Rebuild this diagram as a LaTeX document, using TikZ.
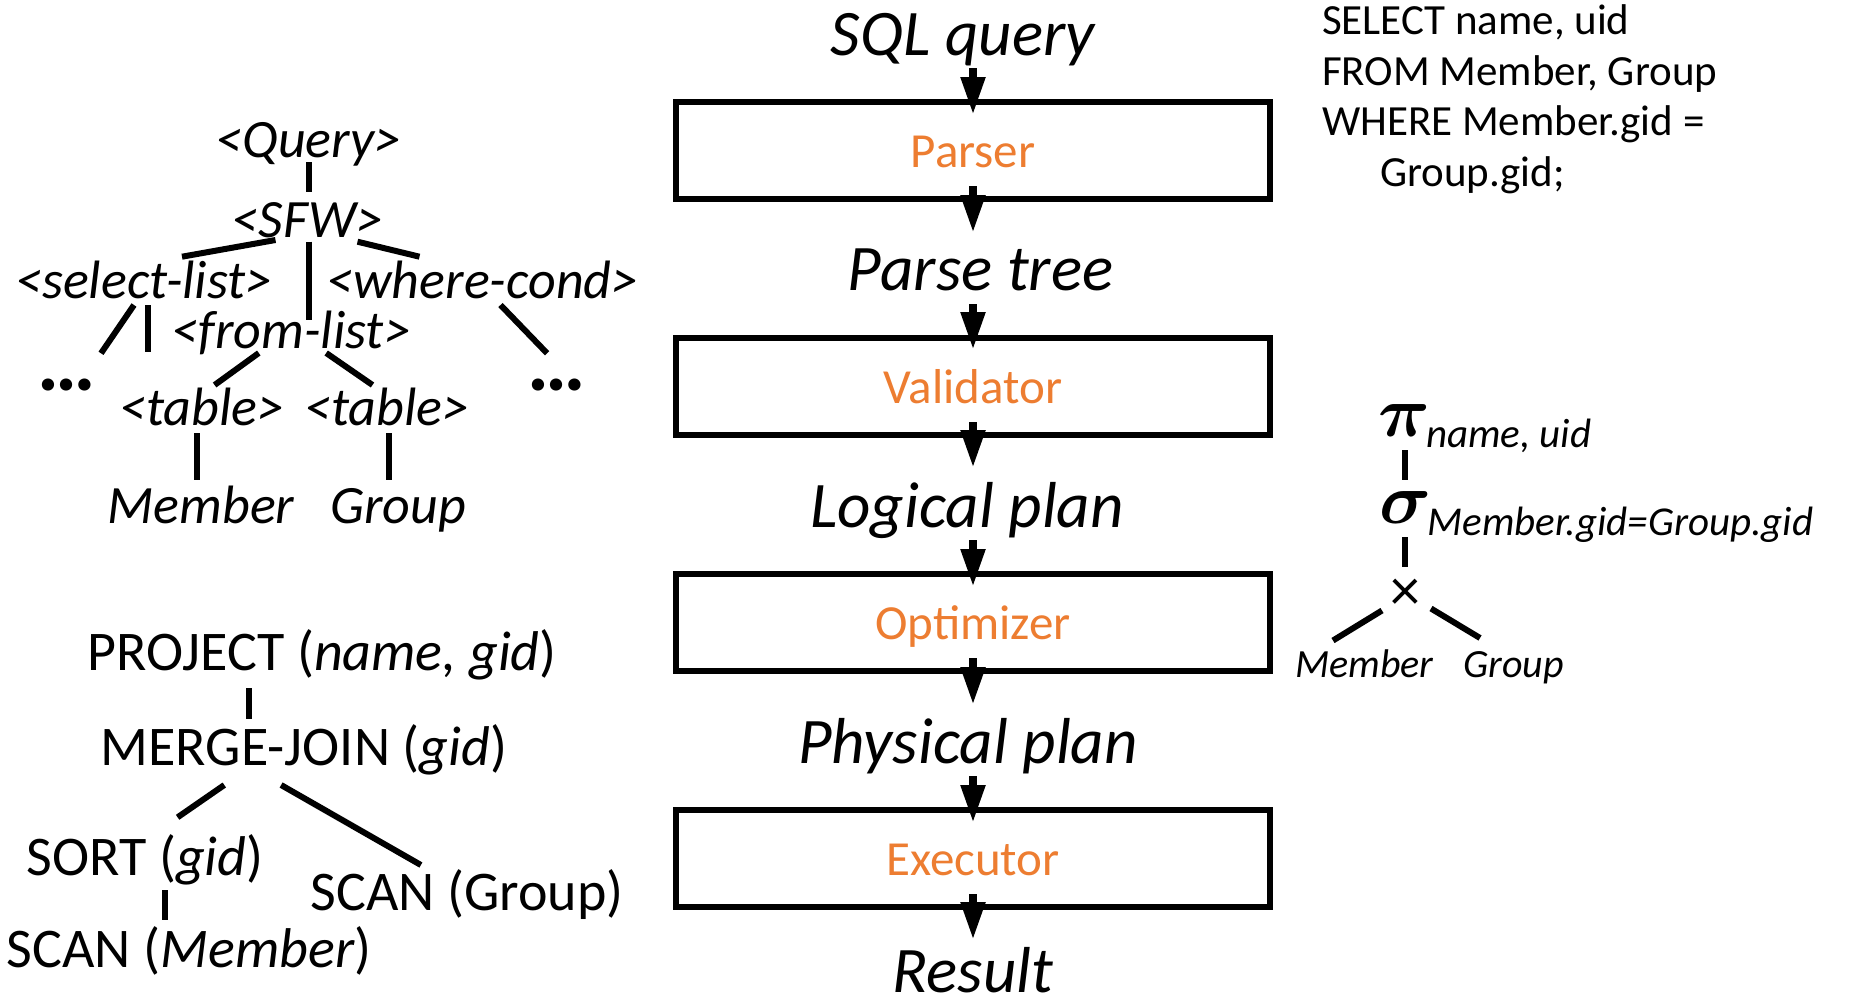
\documentclass[tikz,border=0pt]{standalone}
\usepackage{fix-cm}
\usepackage{fontspec}
\setmainfont{Carlito}
\usetikzlibrary{arrows.meta,calc}
\definecolor{stageorange}{HTML}{ED7D31}
\begin{document}
\begin{tikzpicture}[x=1pt,y=-1pt,
  every node/.style={inner sep=0pt, outer sep=0pt},
  stage/.style={draw, line width=6pt, minimum width=594pt, minimum height=97pt,
    text height=33pt, text depth=0pt, font=\fontsize{49}{59}\selectfont, text=stageorange},
  artifact/.style={anchor=base, font=\fontsize{65}{78}\selectfont\itshape},
  flow/.style={line width=8pt, -{Triangle[length=38pt,width=23pt]}},
  ptnode/.style={anchor=base, font=\fontsize{54}{64}\selectfont\itshape},
  dotnode/.style={anchor=base, font=\fontsize{82}{90}\selectfont\bfseries},
  opnode/.style={anchor=base, font=\fontsize{56}{66}\selectfont},
  sqlline/.style={anchor=base west, font=\fontsize{43}{50}\selectfont},
  symnode/.style={anchor=base, font=\fontsize{72}{72}\selectfont\boldmath},
  subnode/.style={anchor=base west, font=\fontsize{41}{49}\selectfont\itshape},
  relnode/.style={anchor=base, font=\fontsize{40}{48}\selectfont\itshape},
  treeline/.style={line width=6pt},
]
\fill[white] (0,0) rectangle (1849,1001);
\useasboundingbox (0,0) rectangle (1849,1001);

% ---------- processing pipeline ----------
\node[stage] (parser)    at (973,150.5) {Parser};
\node[stage] (validator) at (973,386.5) {Validator};
\node[stage] (optimizer) at (973,622.5) {Optimizer};
\node[stage] (executor)  at (973,858.5) {Executor};

\node[artifact] (sql)    at (963,55)    {SQL query};
\node[artifact] (ptree)  at (980.5,290) {Parse tree};
\node[artifact] (lplan)  at (967,527)   {Logical plan};
\node[artifact] (pplan)  at (968,763)   {Physical plan};
\node[artifact] (result) at (973,992)   {Result};

\draw[flow] ($(parser.north |- sql.base)+(0,13)$) -- ($(parser.north)+(0,13)$);
\draw[flow] ($(parser.south)+(0,-13)$) -- ($(parser.south |- ptree.base)+(0,-57)$);
\draw[flow] ($(validator.north |- ptree.base)+(0,14)$) -- ($(validator.north)+(0,12)$);
\draw[flow] ($(validator.south)+(0,-13)$) -- ($(validator.south |- lplan.base)+(0,-59)$);
\draw[flow] ($(optimizer.north |- lplan.base)+(0,13)$) -- ($(optimizer.north)+(0,13)$);
\draw[flow] ($(optimizer.south)+(0,-13)$) -- ($(optimizer.south |- pplan.base)+(0,-58)$);
\draw[flow] ($(executor.north |- pplan.base)+(0,13)$) -- ($(executor.north)+(0,13)$);
\draw[flow] ($(executor.south)+(0,-13)$) -- ($(executor.south |- result.base)+(0,-52)$);

% ---------- parse tree ----------
\node[ptnode] (query) at (308.5,157) {<Query>};
\node[ptnode] (sfw)   at (307.5,237) {<SFW>};
\node[ptnode] (sel)   at (144,298)   {<select-list>};
\node[ptnode] (where) at (482.5,298) {<where-cond>};
\node[ptnode] (from)  at (291.5,348) {<from-list>};
\node[dotnode] (dotsl) at (67,390)    {…};
\node[dotnode] (dotsr) at (556.5,390) {…};
\node[ptnode] (tabl)  at (202,425)   {<table>};
\node[ptnode] (tabr)  at (387,425)   {<table>};
\node[ptnode] (mem)   at (201,523)   {Member};
\node[ptnode] (grp)   at (398,523)   {Group};
\coordinate (selkid) at (148,352);

\draw[treeline] ($(query.base)+(0.5,5)$) -- ($(sfw.base)+(1.5,-45)$);
\draw[treeline] ($(sfw.base)+(-32,3)$) -- ($(sel.base)+(38,-41.3)$);
\draw[treeline] ($(sfw.base)+(1.5,4.7)$) -- ($(from.base)+(17.5,-28.3)$);
\draw[treeline] ($(sfw.base)+(50,4.7)$) -- ($(where.base)+(-63,-41.3)$);
\draw[treeline] ($(sel.base)+(-10,7)$) -- ($(dotsl.base)+(34,-36.7)$);
\draw[treeline] ($(sel.base)+(4,7)$) -- (selkid);
\draw[treeline] ($(where.base)+(18,7)$) -- ($(dotsr.base)+(-9.4,-36.7)$);
\draw[treeline] ($(from.base)+(-32.7,5)$) -- ($(tabl.base)+(12.6,-40)$);
\draw[treeline] ($(from.base)+(34.7,5)$) -- ($(tabr.base)+(-14.5,-40)$);
\draw[treeline] ($(tabl.base)+(-5.5,8)$) -- ($(mem.base)+(-4.5,-43)$);
\draw[treeline] ($(tabr.base)+(1.5,8)$) -- ($(grp.base)+(-9.5,-43)$);

% ---------- physical operator tree ----------
\node[opnode] (proj)  at (322,670)   {PROJECT (\textit{name, gid})};
\node[opnode] (mj)    at (304,765)   {MERGE-JOIN (\textit{gid})};
\node[opnode] (sort)  at (145,875)   {SORT (\textit{gid})};
\node[opnode] (scang) at (467,910)   {SCAN (Group)};
\node[opnode] (scanm) at (189.4,967) {SCAN (\textit{Member})};

\draw[treeline] ($(proj.base)+(-73,18)$) -- ($(mj.base)+(-55,-46)$);
\draw[treeline] ($(mj.base)+(-79.7,20)$) -- ($(sort.base)+(32.6,-57.7)$);
\draw[treeline] ($(mj.base)+(-22.9,20)$) -- ($(scang.base)+(-46.1,-45)$);
\draw[treeline] ($(sort.base)+(20,15)$) -- ($(scanm.base)+(-24.4,-47)$);

% ---------- SQL text ----------
\node[sqlline] (s1) at (1322,34.4)  {SELECT name, uid};
\node[sqlline] (s2) at (1322,85)    {FROM Member, Group};
\node[sqlline] (s3) at (1322,135.4) {WHERE Member.gid =};
\node[sqlline] (s4) at (1380,186)   {Group.gid;};

% ---------- relational algebra tree ----------
\node[symnode] (pi)     at (1404,436)   {$\pi$};
\node[subnode] (pisub)  at (1426,447.6) {name, uid};
\node[symnode] (sigma)  at (1405.5,523) {$\sigma$};
\node[subnode] (sigsub) at (1427.5,535) {Member.gid=Group.gid};
\node[font=\fontsize{60}{60}\selectfont] (times) at (1405,594.5) {×};
\node[relnode] (rmem) at (1364.5,677) {Member};
\node[relnode] (rgrp) at (1513.5,677) {Group};

\draw[treeline] ($(pi.base)+(1,14)$) -- ($(sigma.base)+(-0.5,-43)$);
\draw[treeline] ($(sigma.base)+(-0.5,14)$) -- ($(times.center)+(0,-27.5)$);
\draw[treeline] ($(times.center)+(-23,16)$) -- ($(rmem.base)+(-31.5,-36.5)$);
\draw[treeline] ($(times.center)+(26,14)$) -- ($(rgrp.base)+(-33.5,-39)$);
\end{tikzpicture}
\end{document}
